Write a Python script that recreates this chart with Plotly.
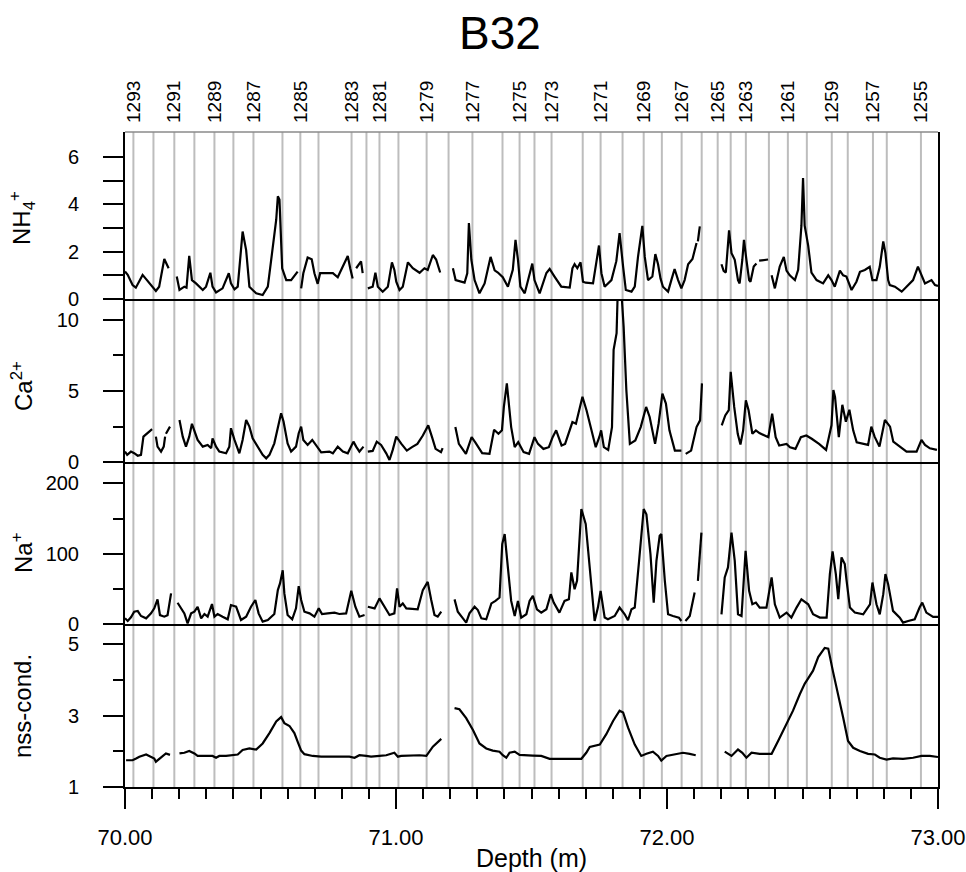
import plotly.graph_objects as go

# ---------------- data ----------------
# annual layer boundaries (depth in m) and their years
year_depth = [70.031, 70.105, 70.182, 70.256, 70.330, 70.400, 70.474, 70.581, 70.647, 70.714,
              70.836, 70.891, 70.939, 71.009, 71.113, 71.194, 71.282, 71.393, 71.456, 71.511,
              71.574, 71.689, 71.755, 71.836, 71.914, 71.981, 72.054, 72.128, 72.187, 72.235,
              72.291, 72.376, 72.446, 72.516, 72.608, 72.667, 72.760, 72.811, 72.937]
years = list(range(1293, 1254, -1))

nh4_depth = [70.000, 70.010, 70.028, 70.040, 70.065, 70.090, 70.114, 70.126, 70.145, 70.161, None,
             70.191, 70.201, 70.219, 70.227, 70.237, 70.247, 70.262, 70.287, 70.299, 70.315, 70.323,
             70.336, 70.360, 70.383, 70.391, 70.404, 70.416, 70.434, 70.447, 70.459, 70.484, 70.508,
             70.527, 70.545, 70.558, 70.564, 70.570, 70.580, 70.595, 70.613, 70.637, None,
             70.650, 70.658, 70.674, 70.689, 70.699, 70.711, 70.720, 70.767, 70.785, 70.804, 70.822,
             70.831, 70.840, None, 70.853, 70.871, 70.877, None,
             70.896, 70.914, 70.924, 70.933, 70.951, 70.970, 70.985, 70.994, 71.001, 71.013, 71.025,
             71.044, 71.062, 71.087, 71.105, 71.117, 71.136, 71.148, 71.163, None,
             71.210, 71.220, 71.253, 71.263, 71.269, 71.278, 71.290, 71.308, 71.327, 71.349, 71.364,
             71.376, 71.394, 71.413, 71.431, 71.441, 71.450, 71.459, 71.475, 71.493, 71.503, 71.511,
             71.530, 71.555, 71.567, 71.585, 71.610, 71.641, 71.651, 71.659, 71.669, 71.681, 71.690,
             71.700, 71.727, 71.749, 71.758, 71.770, 71.795, 71.813, 71.825, 71.838, 71.848, 71.869,
             71.881, 71.893, 71.909, 71.918, 71.930, 71.946, 71.957, 71.967, 71.976, 71.985, 72.004,
             72.016, 72.028, 72.041, 72.053, 72.065, 72.078, 72.094, 72.102, 72.109, None,
             72.114, 72.118, 72.121, None,
             72.201, 72.209, 72.217, 72.223, 72.229, 72.238, 72.250, 72.262, 72.268, 72.278, 72.284,
             72.293, 72.303, 72.308, 72.320, 72.330, None, 72.340, 72.373, None,
             72.386, 72.398, 72.416, 72.431, 72.441, 72.453, 72.472, 72.484, 72.496, 72.502, 72.508,
             72.521, 72.533, 72.552, 72.576, 72.595, 72.607, 72.619, 72.638, 72.650, 72.662, 72.681,
             72.699, 72.712, 72.730, 72.748, 72.758, 72.773, 72.785, 72.798, 72.806, 72.816, 72.822,
             72.841, 72.866, 72.884, 72.908, 72.926, 72.939, 72.952, 72.976, 72.989, 73.000]
nh4_value = [1.16, 1.02, 0.59, 0.48, 1.02, 0.66, 0.34, 0.52, 1.69, 1.30, None,
             0.95, 0.38, 0.52, 0.48, 1.82, 0.80, 0.66, 0.38, 0.52, 1.11, 0.52,
             0.28, 0.45, 1.09, 0.66, 0.41, 0.52, 2.85, 2.07, 0.52, 0.24, 0.17,
             0.52, 2.07, 3.35, 4.34, 4.20, 1.30, 0.80, 0.80, 1.16, None,
             0.45, 1.09, 1.75, 1.68, 1.09, 0.64, 1.09, 1.09, 0.92, 1.38, 1.82,
             1.30, 0.87, None, 1.30, 1.59, 1.09, None,
             0.45, 0.52, 1.11, 0.52, 0.31, 0.52, 1.55, 1.23, 0.73, 0.38, 0.52,
             1.55, 1.30, 1.11, 1.30, 1.23, 1.86, 1.67, 1.12, None,
             1.30, 0.80, 0.69, 1.09, 3.21, 1.66, 0.80, 0.24, 0.66, 1.78, 1.21,
             1.12, 0.92, 0.52, 1.23, 2.50, 1.66, 0.52, 0.24, 1.10, 1.50, 0.80,
             0.24, 1.10, 1.27, 0.95, 0.52, 0.48, 1.30, 1.47, 1.30, 1.55, 0.73,
             0.69, 0.66, 2.26, 1.09, 0.52, 0.80, 1.60, 2.78, 1.37, 0.38, 0.31,
             0.52, 1.78, 3.09, 1.78, 0.80, 0.95, 1.90, 1.47, 0.87, 0.52, 0.31,
             0.80, 1.27, 0.80, 0.45, 0.80, 1.47, 1.69, 2.00, 2.37, None,
             2.44, 3.00, 3.07, None,
             1.47, 1.19, 1.12, 2.26, 2.90, 1.94, 1.66, 0.80, 0.66, 1.66, 2.50,
             1.66, 0.80, 0.73, 1.37, 1.50, None, 1.62, 1.67, None,
             1.00, 0.45, 1.37, 1.78, 1.20, 1.00, 0.80, 1.23, 3.10, 5.11, 3.10,
             2.26, 1.12, 0.80, 0.66, 1.00, 0.80, 0.52, 1.20, 1.00, 0.95, 0.38,
             0.73, 1.15, 1.23, 1.36, 0.80, 0.80, 1.36, 2.43, 1.94, 0.80, 0.59,
             0.52, 0.31, 0.52, 0.80, 1.37, 1.02, 0.66, 0.80, 0.59, 0.55]

ca_depth = [70.000, 70.008, 70.022, 70.034, 70.047, 70.059, 70.068, 70.083, 70.100, None,
            70.114, 70.120, 70.133, 70.143, 70.148, None, 70.151, 70.166, None,
            70.201, 70.213, 70.225, 70.237, 70.247, 70.256, 70.268, 70.287, 70.305, 70.318, 70.323,
            70.336, 70.348, 70.373, 70.385, 70.391, 70.404, 70.422, 70.434, 70.447, 70.459, 70.471,
            70.490, 70.508, 70.521, 70.533, 70.551, 70.564, 70.576, 70.585, 70.600, 70.613, 70.631,
            70.641, 70.650, 70.658, 70.674, 70.691, 70.705, 70.724, 70.754, 70.767, 70.785, 70.804,
            70.822, 70.835, 70.843, 70.853, 70.865, 70.880, None,
            70.896, 70.914, 70.929, 70.945, 70.964, 70.976, 70.988, 71.001, 71.020, 71.040, 71.059,
            71.079, 71.099, 71.119, 71.133, 71.146, 71.166, 71.172, None,
            71.219, 71.232, 71.258, 71.279, 71.292, 71.318, 71.345, 71.362, 71.378, 71.391, 71.398,
            71.409, 71.425, 71.438, 71.451, 71.471, 71.491, 71.511, 71.524, 71.544, 71.564, 71.578,
            71.591, 71.611, 71.624, 71.651, 71.664, 71.688, 71.703, 71.723, 71.737, 71.750, 71.757,
            71.767, 71.783, 71.797, 71.803, 71.814, 71.819, 71.830, 71.840, 71.850, 71.863, 71.883,
            71.903, 71.923, 71.936, 71.956, 71.969, 71.983, 71.996, 72.009, 72.029, 72.053, None,
            72.069, 72.089, 72.109, 72.122, 72.129, None,
            72.202, 72.215, 72.228, 72.235, 72.248, 72.261, 72.271, 72.281, 72.291, 72.301, 72.315,
            72.328, 72.341, 72.374, 72.388, 72.401, 72.414, 72.441, 72.454, 72.474, 72.494, 72.514,
            72.534, 72.561, 72.587, 72.607, 72.614, 72.620, 72.634, 72.647, 72.660, 72.673, 72.687,
            72.700, 72.742, 72.754, 72.766, 72.784, 72.804, 72.823, 72.835, 72.859, 72.884, 72.921,
            72.939, 72.952, 72.970, 72.996]
ca_value = [0.75, 0.52, 0.75, 0.64, 0.46, 0.52, 1.80, 2.04, 2.32, None,
            1.80, 1.10, 0.75, 1.10, 1.80, None, 2.00, 2.50, None,
            2.97, 1.80, 1.10, 1.80, 2.70, 2.27, 1.57, 1.10, 1.22, 0.99, 1.68,
            1.10, 0.75, 0.63, 1.10, 2.39, 1.57, 0.63, 1.57, 2.97, 2.50, 1.68,
            1.10, 0.52, 0.28, 0.52, 1.33, 2.50, 3.44, 2.86, 1.33, 0.75, 1.10,
            2.04, 2.50, 1.57, 1.22, 1.57, 1.22, 0.70, 0.75, 0.63, 1.10, 0.75,
            0.63, 1.10, 1.45, 1.10, 0.75, 1.10, None,
            0.75, 0.80, 1.45, 1.22, 0.63, 0.16, 0.87, 1.80, 1.29, 0.82, 1.06,
            1.29, 1.88, 2.59, 1.76, 0.94, 0.71, 0.99, None,
            2.47, 1.29, 0.59, 1.76, 1.41, 0.64, 0.59, 2.28, 2.00, 2.24, 3.88,
            5.53, 2.47, 1.06, 1.41, 0.71, 0.59, 1.76, 1.29, 0.94, 1.06, 1.76,
            2.24, 1.18, 1.29, 2.82, 2.71, 4.59, 3.65, 2.24, 1.06, 1.76, 2.24,
            1.06, 0.87, 2.47, 7.88, 9.06, 12.50, 12.50, 9.50, 5.06, 1.29, 1.53,
            2.47, 3.88, 3.18, 1.29, 2.71, 4.82, 4.12, 2.24, 0.82, 0.82, None,
            0.59, 0.82, 2.47, 2.94, 5.53, None,
            2.59, 3.29, 3.65, 6.35, 3.88, 2.00, 1.25, 2.24, 4.35, 3.65, 2.00,
            2.24, 2.05, 1.76, 3.41, 1.76, 1.18, 1.29, 1.06, 0.94, 1.76, 1.88,
            1.65, 1.29, 0.87, 2.59, 5.06, 4.59, 1.76, 4.03, 2.85, 3.68, 2.24,
            1.40, 1.22, 2.50, 1.80, 1.10, 2.97, 2.50, 1.45, 1.10, 0.75, 0.75,
            1.57, 1.22, 0.98, 0.87]

na_depth = [70.000, 70.010, 70.022, 70.034, 70.047, 70.059, 70.078, 70.096, 70.108, 70.120, 70.129,
            70.145, 70.157, 70.170, None,
            70.194, 70.207, 70.219, 70.231, 70.244, 70.256, 70.268, 70.281, 70.293, 70.305, 70.321,
            70.330, 70.342, 70.360, 70.379, 70.391, 70.410, 70.428, 70.447, 70.465, 70.481, 70.493,
            70.508, 70.527, 70.551, 70.564, 70.572, 70.582, 70.588, 70.600, 70.617, 70.631, 70.641,
            70.650, 70.662, 70.681, 70.699, 70.715, 70.727, 70.748, 70.773, 70.791, 70.816, 70.835,
            70.850, 70.865, 70.884, None,
            70.896, 70.921, 70.939, 70.958, 70.976, 70.994, 71.004, 71.013, 71.025, 71.038, 71.062,
            71.080, 71.099, 71.117, 71.130, 71.142, 71.154, 71.167, None,
            71.216, 71.228, 71.247, 71.259, 71.271, 71.290, 71.302, 71.315, 71.333, 71.352, 71.367,
            71.382, 71.392, 71.401, 71.413, 71.425, 71.438, 71.450, 71.462, 71.481, 71.493, 71.505,
            71.520, 71.536, 71.555, 71.571, 71.582, 71.603, 71.622, 71.638, 71.647, 71.659, 71.668,
            71.684, 71.700, 71.715, 71.733, 71.745, 71.755, 71.770, 71.782, 71.807, 71.825, 71.844,
            71.856, 71.869, 71.881, 71.897, 71.914, 71.924, 71.939, 71.951, 71.961, 71.973, 71.979,
            71.992, 72.004, 72.022, 72.044, 72.053, None,
            72.068, 72.084, 72.102, None, 72.114, 72.127, None,
            72.201, 72.213, 72.225, 72.238, 72.250, 72.262, 72.275, 72.290, 72.303, 72.315, 72.328,
            72.342, 72.367, 72.386, 72.398, 72.416, 72.441, 72.459, 72.478, 72.496, 72.521, 72.539,
            72.564, 72.589, 72.601, 72.611, 72.623, 72.632, 72.644, 72.656, 72.662, 72.675, 72.693,
            72.724, 72.749, 72.758, 72.773, 72.785, 72.798, 72.806, 72.816, 72.834, 72.859, 72.871,
            72.890, 72.914, 72.932, 72.942, 72.957, 72.982, 73.000]
na_value = [8.5, 4.7, 10.0, 17.9, 18.8, 11.8, 8.5, 15.5, 22.6, 35.3, 13.0,
            10.8, 13.0, 43.8, None,
            30.6, 22.6, 15.5, 1.4, 15.5, 17.9, 24.9, 8.5, 14.6, 10.8, 28.7,
            10.8, 14.6, 10.8, 7.1, 27.3, 24.9, 6.1, 10.8, 24.9, 34.4, 15.5,
            3.8, 6.1, 14.6, 48.5, 57.9, 76.7, 43.8, 13.2, 7.1, 22.6, 54.1,
            34.4, 17.9, 15.5, 10.8, 22.6, 14.6, 15.5, 16.5, 14.6, 15.5, 47.5,
            24.9, 10.8, 13.2, None,
            24.9, 22.6, 36.7, 24.9, 13.2, 15.5, 50.8, 24.9, 29.6, 22.6, 21.2,
            21.2, 48.5, 60.2, 34.4, 13.2, 10.8, 17.9, None,
            35.3, 17.9, 8.5, 2.4, 15.5, 24.9, 20.2, 8.5, 7.1, 29.6, 33.2,
            37.9, 113.7, 128.0, 80.0, 33.2, 11.8, 33.2, 9.5, 14.2, 33.2, 40.3,
            21.3, 16.6, 21.3, 42.7, 30.8, 16.6, 33.2, 35.5, 73.5, 49.8, 61.6,
            163.5, 142.2, 80.6, 4.7, 23.7, 47.4, 9.5, 7.1, 11.8, 23.7, 14.2,
            5.7, 21.3, 23.7, 90.0, 163.5, 156.0, 99.5, 30.8, 90.0, 125.6, 128.0,
            61.6, 14.2, 11.8, 9.5, 4.7, None,
            4.7, 11.8, 45.0, None, 61.6, 130.0, None,
            14.2, 66.4, 80.6, 130.0, 90.0, 14.2, 11.8, 104.3, 47.4, 28.4, 30.8,
            23.7, 23.7, 66.4, 28.4, 9.5, 16.6, 9.5, 23.7, 35.5, 28.4, 14.2,
            9.5, 9.5, 71.1, 103.3, 71.1, 35.5, 94.8, 85.3, 64.0, 23.7, 16.6,
            14.2, 28.4, 59.2, 28.4, 14.2, 42.7, 71.1, 56.9, 19.0, 9.5, 2.4,
            4.7, 7.1, 23.7, 30.8, 16.6, 10.4, 10.4]

nss_depth = [70.004, 70.028, 70.041, 70.053, 70.078, 70.096, 70.108, 70.114, 70.133, 70.151, 70.166, None,
             70.201, 70.219, 70.237, 70.256, 70.268, 70.299, 70.323, 70.336, 70.348, 70.373, 70.397,
             70.416, 70.434, 70.459, 70.484, 70.508, 70.533, 70.558, 70.576, 70.588, 70.607, 70.625,
             70.637, 70.650, 70.662, 70.693, 70.724, 70.767, 70.791, 70.828, 70.847, 70.865, 70.890,
             70.908, 70.939, 70.964, 70.994, 71.007, 71.019, 71.050, 71.087, 71.112, 71.136, 71.167, None,
             71.216, 71.234, 71.259, 71.284, 71.308, 71.333, 71.357, 71.382, 71.394, 71.407, 71.419,
             71.438, 71.456, 71.481, 71.505, 71.536, 71.567, 71.603, 71.628, 71.653, 71.684, 71.702,
             71.715, 71.752, 71.776, 71.801, 71.825, 71.838, 71.856, 71.881, 71.905, 71.924, 71.948,
             71.967, 71.979, 71.998, 72.035, 72.059, 72.084, 72.106, None,
             72.213, 72.238, 72.262, 72.278, 72.293, 72.312, 72.342, 72.386, 72.410, 72.441, 72.465,
             72.490, 72.508, 72.539, 72.558, 72.582, 72.595, 72.613, 72.632, 72.650, 72.668, 72.687,
             72.712, 72.742, 72.767, 72.785, 72.810, 72.834, 72.871, 72.908, 72.939, 72.970, 73.000]
nss_value = [1.75, 1.75, 1.80, 1.85, 1.91, 1.85, 1.80, 1.71, 1.83, 1.94, 1.90, None,
             1.94, 1.96, 2.01, 1.94, 1.87, 1.87, 1.87, 1.82, 1.87, 1.87, 1.89,
             1.91, 2.04, 2.08, 2.05, 2.22, 2.51, 2.84, 2.96, 2.79, 2.71, 2.51,
             2.27, 2.02, 1.92, 1.87, 1.85, 1.85, 1.83, 1.85, 1.82, 1.89, 1.87,
             1.85, 1.87, 1.89, 1.96, 1.85, 1.87, 1.88, 1.89, 1.87, 2.13, 2.35, None,
             3.21, 3.18, 2.93, 2.60, 2.22, 2.08, 2.02, 1.99, 1.89, 1.82, 1.96,
             1.99, 1.90, 1.88, 1.88, 1.87, 1.79, 1.79, 1.79, 1.80, 1.79, 1.96,
             2.12, 2.19, 2.48, 2.85, 3.14, 3.09, 2.67, 2.19, 1.87, 1.93, 1.99,
             1.87, 1.74, 1.87, 1.93, 1.96, 1.93, 1.89, None,
             1.99, 1.87, 2.05, 1.96, 1.82, 1.96, 1.93, 1.93, 2.29, 2.76, 3.14,
             3.60, 3.89, 4.26, 4.64, 4.90, 4.88, 4.22, 3.60, 2.95, 2.29, 2.10,
             2.01, 1.93, 1.91, 1.82, 1.77, 1.80, 1.79, 1.82, 1.87, 1.87, 1.84]

depth_ticks = [70.0, 71.0, 72.0, 73.0]
nh4_ticks = [0, 1, 2, 3, 4, 5, 6]

# ---------------- figure ----------------
FONT = "Liberation Sans, Arial, Helvetica, sans-serif"
W, H = 966, 872
ML, MR, MT, MB = 125, 28, 132, 85
PH = H - MT - MB

def frac(ypx):
    return (H - MB - ypx) / PH

d_nh4 = [frac(299), 1.0]
d_ca = [frac(462.3), frac(299)]
d_na = [frac(624.3), frac(462.3)]
d_nss = [0.0, frac(624.3)]

line = dict(color="black", width=2.2)
fig = go.Figure()
fig.add_trace(go.Scatter(x=nh4_depth, y=nh4_value, mode="lines", line=line,
                         xaxis="x4", yaxis="y", connectgaps=False, showlegend=False))
fig.add_trace(go.Scatter(x=ca_depth, y=ca_value, mode="lines", line=line,
                         xaxis="x3", yaxis="y2", connectgaps=False, showlegend=False))
fig.add_trace(go.Scatter(x=na_depth, y=na_value, mode="lines", line=line,
                         xaxis="x2", yaxis="y3", connectgaps=False, showlegend=False))
fig.add_trace(go.Scatter(x=nss_depth, y=nss_value, mode="lines", line=line,
                         xaxis="x", yaxis="y4", connectgaps=False, showlegend=False))
# carrier for the top year axis
fig.add_trace(go.Scatter(x=[None], y=[None], xaxis="x5", yaxis="y", showlegend=False,
                         hoverinfo="skip"))

# year boundary lines
for d in year_depth:
    fig.add_shape(type="line", xref="x", yref="paper", x0=d, x1=d, y0=0, y1=1,
                  line=dict(color="#bdbdbd", width=2), layer="below")
# top frame
fig.add_shape(type="line", xref="paper", yref="paper", x0=0, x1=1, y0=1, y1=1,
              line=dict(color="#8a8a8a", width=1.5))

tickfont = dict(family=FONT, size=20, color="black")
common_y = dict(showline=True, linecolor="black", linewidth=2, mirror=True,
                ticks="outside", ticklen=20, tickwidth=1.5, tickcolor="black",
                showgrid=False, zeroline=False, tickfont=tickfont, ticklabelstandoff=20,
                automargin=False)
common_xpanel = dict(range=[70, 73], matches="x", showline=True, linecolor="black",
                     linewidth=1.5, ticks="", showticklabels=False, showgrid=False,
                     zeroline=False, automargin=False)

odd_idx = [i for i, y in enumerate(years) if y % 2 == 1]

fig.update_layout(
    width=W, height=H,
    margin=dict(l=ML, r=MR, t=MT, b=MB, autoexpand=False),
    paper_bgcolor="white", plot_bgcolor="rgba(0,0,0,0)",
    font=dict(family=FONT, color="black"),
    showlegend=False,
    title=dict(text="B32", x=500 / W, xref="container", xanchor="center",
               y=1 - 33 / H, yref="container", yanchor="middle", automargin=False,
               font=dict(family=FONT, size=46, color="black")),
    xaxis=dict(range=[70, 73], anchor="y4", domain=[0, 1], showline=True, linecolor="black",
               linewidth=2, ticks="outside", ticklen=20, tickwidth=2, tickcolor="black",
               tickmode="array", tickvals=depth_ticks,
               ticktext=[f"{v:.2f}" for v in depth_ticks],
               minor=dict(dtick=0.1, tick0=70, ticks="outside", ticklen=10, tickwidth=2,
                          tickcolor="black", showgrid=False),
               showgrid=False, zeroline=False, tickfont=dict(family=FONT, size=22),
               ticklabelstandoff=10, automargin=False,
               title=dict(text="Depth (m)", font=dict(family=FONT, size=25), standoff=2)),
    xaxis2=dict(anchor="y3", domain=[0, 1], **common_xpanel),
    xaxis3=dict(anchor="y2", domain=[0, 1], **common_xpanel),
    xaxis4=dict(anchor="y", domain=[0, 1], **common_xpanel),
    xaxis5=dict(range=[70, 73], overlaying="x4", anchor="y", side="top",
                tickmode="array", tickvals=[year_depth[i] for i in odd_idx],
                ticktext=[str(years[i]) for i in odd_idx], tickangle=-90,
                ticks="", showline=False, showgrid=False, zeroline=False, automargin=False,
                tickfont=dict(family=FONT, size=19), ticklabelstandoff=8),
    yaxis=dict(domain=d_nh4, anchor="x4", range=[0, 7.06], tickmode="array",
               tickvals=nh4_ticks, ticktext=[str(v) if v % 2 == 0 else "" for v in nh4_ticks],
               **common_y),
    yaxis2=dict(domain=d_ca, anchor="x3", range=[0, 11.45], tick0=0, dtick=5,
                minor=dict(dtick=2.5, ticks="outside", ticklen=10, tickcolor="black"),
                **common_y),
    yaxis3=dict(domain=d_na, anchor="x2", range=[0, 229.7], tick0=0, dtick=100,
                minor=dict(dtick=50, ticks="outside", ticklen=10, tickcolor="black"),
                **common_y),
    yaxis4=dict(domain=d_nss, anchor="x", range=[1, 5.56], tick0=1, dtick=2,
                minor=dict(tick0=1, dtick=1, ticks="outside", ticklen=10, tickcolor="black"),
                **common_y),
)

# y-axis titles aligned in one column
ytitles = [("NH<sub>4</sub><sup>+</sup>", 218), ("Ca<sup>2+</sup>", 386),
           ("Na<sup>+</sup>", 553), ("nss-cond.", 706)]
for txt, ypx in ytitles:
    fig.add_annotation(text=txt, xref="paper", yref="paper",
                       x=(22 - ML) / (W - ML - MR), y=frac(ypx),
                       xanchor="center", yanchor="middle", textangle=-90,
                       showarrow=False, font=dict(family=FONT, size=24, color="black"))

fig.write_html("out.html")
